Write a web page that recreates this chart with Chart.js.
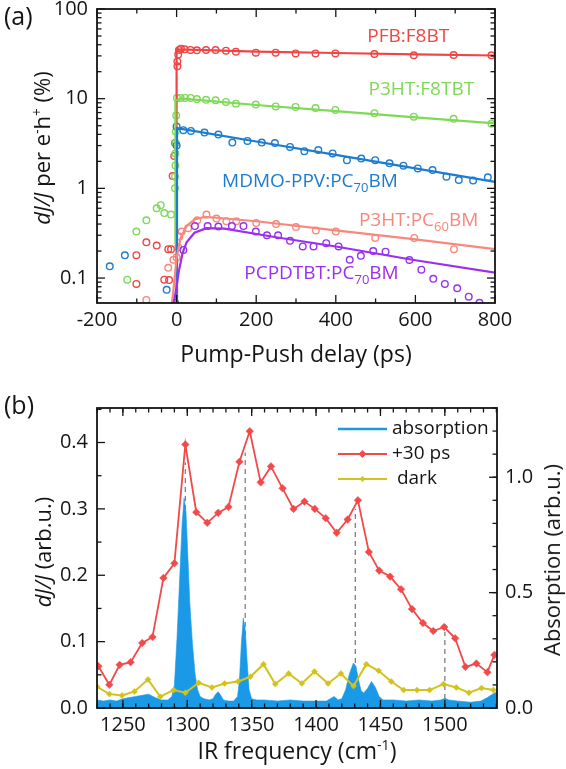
<!DOCTYPE html>
<html>
<head>
<meta charset="utf-8">
<script src="https://cdn.jsdelivr.net/npm/chart.js@4.4.1/dist/chart.umd.min.js"></script>
<style>
html,body{margin:0;padding:0;background:#ffffff;}
#wrap{position:relative;width:566px;height:769px;overflow:hidden;font-family:"Open Sans",sans-serif;color:#151515;}
#ca,#cb{position:absolute;left:0;}
#ca{top:0;}
#cb{top:385px;}
.t{position:absolute;white-space:nowrap;line-height:1;}
.r{transform:translate(-50%,-50%) rotate(-90deg);}
.c{transform:translate(-50%,-50%);}
sup{font-size:62%;vertical-align:0;position:relative;top:-0.6em;}
</style>
</head>
<body>
<div id="wrap">
<canvas id="ca" width="566" height="385"></canvas>
<canvas id="cb" width="566" height="384"></canvas>
<div class="t" style="left:4px;top:3px;font-size:25px;">(a)</div>
<div class="t" style="left:4px;top:392px;font-size:25px;">(b)</div>
<div class="t r" style="left:41px;top:148px;font-size:22px;"><i>dJ/J</i> per e<sup>-</sup>h<sup>+</sup> (%)</div>
<div class="t c" style="left:296px;top:353px;font-size:23px;">Pump-Push delay (ps)</div>
<div class="t r" style="left:42px;top:552px;font-size:22px;"><i>dJ/J</i> (arb.u.)</div>
<div class="t r" style="left:551px;top:560px;font-size:22px;">Absorption (arb.u.)</div>
<div class="t c" style="left:297px;top:750px;font-size:23px;">IR frequency (cm<sup>-1</sup>)</div>
</div>
<script>
// ---------------- Panel (a) data ----------------
const aXTicks = [-200, 0, 200, 400, 600, 800];
const aYTicks = [0.1, 1, 10, 100];

// PFB:F8BT
const pfbX = [-101,-101,-76,-50,-31,-21,-19,-14,-10,-6,-4,2,2,4,6,11,20,35,51,74,98,124,149,199,249,299,349,399,497,596,696,791];
const pfbY = [0.086,0.18,0.25,0.23,0.096,0.21,0.095,0.21,1.37,2.3,3.2,23,26,31,35,36,35.5,35,34.6,34.9,34.9,34.3,33.4,32.6,32.6,32,32,32,31.5,30.5,30.7,30.5];
const pfbFitX = [-1, 0, 50, 200, 400, 600, 800];
const pfbFitY = [0.03, 35.5, 35, 33.5, 32.3, 31.2, 30.3];

// P3HT:F8TBT
const grnX = [-124,-101,-76,-50,-40,-31,-14,-4,-4,-3,-3,-2,-2,-1,1,10,21,35,51,74,98,124,149,199,249,299,349,399,497,596,696,791];
const grnY = [0.096,0.33,0.44,0.60,0.65,0.53,0.51,1.0,1.35,1.8,2.45,3.2,4.3,6.5,10.2,10.2,10.2,10.2,9.9,9.7,9.6,9.2,8.8,8.6,8.2,8.1,7.85,7.5,6.9,6.3,5.96,5.24];
const grnFitX = [-4, -3, 10, 200, 400, 600, 800];
const grnFitY = [0.24, 9.5, 10.1, 8.5, 7.25, 6.2, 5.3];

// MDMO-PPV:PC70BM
const bluX = [-168,-130,-25,-4,0,0,17,36,70,105,140,178,214,247,285,321,356,392,428,464,499,535,570,606,643,678,709,745,782];
const bluY = [0.135,0.179,0.074,0.053,3.0,4.9,4.45,4.37,4.19,3.98,3.24,3.38,3.24,3.2,2.9,2.6,2.67,2.45,2.06,2.15,2.06,1.9,1.79,1.67,1.6,1.35,1.24,1.22,1.33];
const bluFitX = [0, 1, 200, 400, 600, 800];
const bluFitY = [0.04, 4.7, 3.33, 2.36, 1.67, 1.18];

// P3HT:PC60BM
const salX = [-76,-21,-8,0,4,7,13,29,52,75,100,125,150,200,250,300,350,400,499,597,697];
const salY = [0.057,0.13,0.16,0.17,0.22,0.29,0.33,0.36,0.44,0.51,0.46,0.43,0.43,0.41,0.40,0.37,0.34,0.33,0.28,0.28,0.21];
const salFitX = [-12,-5,0,10,25,45,70,100,200,400,600,800];
const salFitY = [0.05,0.1,0.17,0.28,0.38,0.45,0.48,0.47,0.43,0.34,0.27,0.21];

// PCPDTBT:PC70BM
const purX = [17,46,78,105,139,168,199,227,255,285,317,344,376,407,435,463,494,525,585,615,645,674,705,734,761];
const purY = [0.206,0.38,0.38,0.375,0.38,0.38,0.33,0.30,0.30,0.26,0.225,0.225,0.245,0.225,0.16,0.177,0.2,0.197,0.159,0.124,0.098,0.086,0.077,0.062,0.053];
const purFitX = [-8,0,5,15,25,45,75,120,250,400,600,800];
const purFitY = [0.05,0.08,0.115,0.19,0.25,0.32,0.36,0.355,0.285,0.225,0.158,0.115];

// series labels (text, anchor in data coordinates)
const aLabelText = ['PFB:F8BT', 'P3HT:F8TBT', 'MDMO-PPV:PC_{70}BM', 'P3HT:PC_{60}BM', 'PCPDTBT:PC_{70}BM'];
const aLabelX = [582, 615, 335, 608, 364];
const aLabelY = [49.8, 12.7, 1.2, 0.44, 0.113];

// ---------------- Panel (b) data ----------------
const bXTicks = [1250, 1300, 1350, 1400, 1450, 1500];
const bYTicks = [0, 0.1, 0.2, 0.3, 0.4];
const bY2Ticks = [0, 0.5, 1.0];

// +30 ps
const pushX = [1231,1239.5,1247.5,1256,1265,1273,1281.5,1290,1298.5,1307,1315.5,1324,1332,1340.5,1348.5,1357,1365,1374,1382.5,1391,1399,1407.5,1416,1424.5,1432.5,1441,1449,1457.5,1466,1474.5,1483,1491,1499.5,1508,1516,1524.5,1533,1538.5];
const pushY = [0.063,0.035,0.065,0.069,0.098,0.107,0.196,0.218,0.397,0.295,0.279,0.294,0.303,0.371,0.417,0.34,0.364,0.331,0.30,0.311,0.30,0.286,0.264,0.284,0.313,0.235,0.207,0.198,0.179,0.149,0.128,0.116,0.122,0.105,0.062,0.067,0.054,0.08];

// dark
const darkX = [1230,1239.5,1249.3,1259,1269.5,1279,1289.4,1298.5,1308.8,1319.2,1329,1339.4,1349,1359.2,1368.3,1378.7,1389,1398.8,1409.3,1419.3,1429.1,1439,1448.6,1458.4,1468,1478.4,1488.1,1499,1508.9,1518.7,1528.5,1537.7];
const darkY = [0.032,0.021,0.019,0.025,0.043,0.017,0.027,0.023,0.038,0.031,0.037,0.040,0.047,0.066,0.036,0.052,0.037,0.055,0.037,0.052,0.033,0.066,0.056,0.040,0.027,0.027,0.027,0.036,0.031,0.023,0.030,0.027];

// absorption (right axis)
const absX = [1230,1235,1240,1245,1250,1255,1260,1265,1270,1275,1280,1285,1288,1290,1292,1294,1296,1297.5,1299,1300.5,1302,1304,1306,1308,1310,1313,1317,1320,1322,1324,1326,1328,1332,1336,1339,1340.5,1342,1343.5,1345,1346.5,1348,1350,1354,1360,1370,1380,1390,1400,1408,1411,1414,1417,1420,1423,1426,1429,1431,1433,1435,1437,1440,1443,1446,1449,1452,1460,1470,1480,1490,1497,1500,1503,1510,1520,1528,1533,1537,1540.5];
const absY = [0.035,0.03,0.035,0.03,0.04,0.045,0.05,0.055,0.06,0.045,0.035,0.035,0.05,0.1,0.3,0.55,0.8,0.91,0.85,0.65,0.45,0.28,0.15,0.08,0.05,0.04,0.035,0.04,0.06,0.07,0.055,0.035,0.03,0.03,0.05,0.12,0.28,0.39,0.34,0.2,0.08,0.04,0.035,0.035,0.03,0.035,0.03,0.03,0.03,0.04,0.05,0.035,0.04,0.08,0.15,0.195,0.18,0.12,0.075,0.065,0.085,0.115,0.09,0.05,0.035,0.035,0.03,0.035,0.03,0.035,0.042,0.035,0.03,0.025,0.03,0.045,0.06,0.07];

// vertical dashed markers
const markX = [1298.5, 1345, 1430.5, 1500];
const markTop = [0.37, 0.385, 0.30, 0.115];

const legendText = ['absorption', '+30 ps', ' dark'];

// ---------------- styles ----------------
const FONT = "'Open Sans', sans-serif";
const INK = '#151515';
Chart.defaults.font.family = FONT;
Chart.defaults.color = INK;

const cRed = '#ef4545', cGrn = '#7ed957', cBlu = '#1c7ccf', cSal = '#f8877c', cPur = '#9a30ee';
const bRed = '#f24a4a', bYel = '#d2c21c', bBlu = '#1a9ae6';

const pts = (xs, ys) => xs.map((v, i) => ({x: v, y: ys[i]}));

// frame + inward ticks plugin
const frameTicks = {
  id: 'frameTicks',
  afterDatasetsDraw(chart, args, o) {
    const {ctx, chartArea: a} = chart;
    ctx.save();
    const line = (x1, y1, x2, y2) => { ctx.beginPath(); ctx.moveTo(x1, y1); ctx.lineTo(x2, y2); ctx.stroke(); };
    ctx.strokeStyle = INK; ctx.lineWidth = 1.3;
    const xs = chart.scales.x;
    [[o.xMajor, 8], [o.xMinor, 4.5]].forEach(([vals, len]) => vals.forEach(v => {
      const p = xs.getPixelForValue(v);
      if (p < a.left - 0.5 || p > a.right + 0.5) return;
      line(p, a.bottom, p, a.bottom - len); line(p, a.top, p, a.top + len);
    }));
    const ys = chart.scales.y;
    [[o.yMajor, 8], [o.yMinor, 4.5]].forEach(([vals, len]) => vals.forEach(v => {
      const p = ys.getPixelForValue(v);
      if (p < a.top - 0.5 || p > a.bottom + 0.5) return;
      line(a.left, p, a.left + len, p);
      if (!o.y2Major) line(a.right, p, a.right - len, p);
    }));
    if (o.y2Major) {
      const y2 = chart.scales.y2;
      [[o.y2Major, 8], [o.y2Minor, 4.5]].forEach(([vals, len]) => vals.forEach(v => {
        const p = y2.getPixelForValue(v);
        if (p < a.top - 0.5 || p > a.bottom + 0.5) return;
        line(a.right, p, a.right - len, p);
      }));
    }
    ctx.lineWidth = 1.8;
    ctx.strokeRect(a.left, a.top, a.right - a.left, a.bottom - a.top);
    ctx.restore();
  }
};

function range(a, b, step) { const r = []; for (let v = a; v <= b + 1e-9; v += step) r.push(+v.toFixed(6)); return r; }
function logMinor(lo, hi) { const r = []; for (let d = lo; d < hi; d *= 10) for (let k = 2; k <= 9; k++) r.push(+(d * k).toPrecision(6)); return r; }

// text labels with subscripts
const seriesLabels = {
  id: 'seriesLabels',
  afterDatasetsDraw(chart, args, o) {
    const {ctx} = chart;
    const xs = chart.scales.x, ys = chart.scales.y;
    ctx.save();
    ctx.textBaseline = 'middle';
    o.text.forEach((txt, i) => {
      const parts = txt.split(/_\{(\d+)\}/);
      const mainF = `19px ${FONT}`, subF = `13px ${FONT}`;
      let w = 0;
      parts.forEach((p, j) => { ctx.font = j % 2 ? subF : mainF; w += ctx.measureText(p).width; });
      let x = xs.getPixelForValue(o.x[i]) - w / 2;
      const y = ys.getPixelForValue(o.y[i]);
      ctx.fillStyle = o.colors[i];
      ctx.textAlign = 'left';
      parts.forEach((p, j) => {
        ctx.font = j % 2 ? subF : mainF;
        ctx.fillText(p, x, j % 2 ? y + 7 : y);
        x += ctx.measureText(p).width;
      });
    });
    ctx.restore();
  }
};

function axisCommon(extra) {
  return Object.assign({
    grid: {display: false, drawTicks: false},
    border: {display: false},
  }, extra);
}

// ---------------- Chart (a) ----------------
const aSeries = [
  {c: cRed, x: pfbX, y: pfbY, fx: pfbFitX, fy: pfbFitY},
  {c: cGrn, x: grnX, y: grnY, fx: grnFitX, fy: grnFitY},
  {c: cBlu, x: bluX, y: bluY, fx: bluFitX, fy: bluFitY},
  {c: cSal, x: salX, y: salY, fx: salFitX, fy: salFitY},
  {c: cPur, x: purX, y: purY, fx: purFitX, fy: purFitY},
];
const aSets = [];
aSeries.forEach((s, i) => {
  aSets.push({data: pts(s.x, s.y), showLine: false, pointRadius: 3.3, pointBorderWidth: 1.4,
    pointBorderColor: s.c, pointBackgroundColor: 'rgba(255,255,255,0)', pointHoverRadius: 3.3, order: 20 - i});
});
aSeries.forEach((s, i) => {
  aSets.push({data: pts(s.fx, s.fy), showLine: true, borderColor: s.c, borderWidth: 2.2, pointRadius: 0,
    tension: 0, fill: false, order: 10 - i});
});

new Chart(document.getElementById('ca'), {
  type: 'scatter',
  data: {datasets: aSets},
  options: {
    responsive: false, animation: false, events: [],
    layout: {padding: {top: 9, right: 71, left: 0, bottom: 0}},
    plugins: {
      legend: {display: false}, tooltip: {enabled: false},
      frameTicks: {xMajor: aXTicks, xMinor: range(-100, 700, 200), yMajor: aYTicks, yMinor: logMinor(0.01, 100)},
      seriesLabels: {text: aLabelText, x: aLabelX, y: aLabelY, colors: [cRed, cGrn, cBlu, cSal, cPur]}
    },
    scales: {
      x: axisCommon({type: 'linear', min: -200, max: 800,
        afterBuildTicks: s => { s.ticks = aXTicks.map(v => ({value: v})); },
        afterFit: s => { s.height = 82; s.paddingLeft = 0; s.paddingRight = 0; },
        ticks: {font: {size: 20}, padding: 5, color: INK, autoSkip: false, maxRotation: 0, callback: v => String(v)}}),
      y: axisCommon({type: 'logarithmic', min: 0.0527, max: 100,
        afterBuildTicks: s => { s.ticks = aYTicks.map(v => ({value: v})); },
        afterFit: s => { s.width = 97; s.paddingTop = 0; s.paddingBottom = 0; },
        ticks: {font: {size: 20}, padding: 9, color: INK, autoSkip: false, callback: v => String(v)}})
    }
  },
  plugins: [frameTicks, seriesLabels]
});

// ---------------- Chart (b) ----------------
const legendB = {
  id: 'legendB',
  afterDatasetsDraw(chart, args, o) {
    const {ctx, chartArea: a} = chart;
    ctx.save();
    ctx.font = `19px ${FONT}`;
    ctx.textBaseline = 'middle';
    ctx.fillStyle = INK;
    o.items.forEach((it, i) => {
      const y = a.top + 21 + i * 25;
      const x0 = a.right - 159, x1 = a.right - 110;
      ctx.strokeStyle = it.color; ctx.lineWidth = it.lw;
      ctx.beginPath(); ctx.moveTo(x0, y); ctx.lineTo(x1, y); ctx.stroke();
      if (it.r) {
        const cx = (x0 + x1) / 2;
        ctx.fillStyle = it.color;
        ctx.beginPath(); ctx.moveTo(cx - it.r, y); ctx.lineTo(cx, y - it.r); ctx.lineTo(cx + it.r, y); ctx.lineTo(cx, y + it.r); ctx.closePath(); ctx.fill();
      }
      ctx.fillStyle = INK;
      ctx.fillText(it.text, a.right - 105, y);
    });
    ctx.restore();
  }
};

const bSets = [];
markX.forEach((mx, i) => {
  bSets.push({data: [{x: mx, y: 0}, {x: mx, y: markTop[i]}], showLine: true, borderColor: '#808080',
    borderWidth: 1.3, borderDash: [5, 4], pointRadius: 0, yAxisID: 'y', order: 50});
});
bSets.push({data: pts(absX, absY), showLine: true, yAxisID: 'y2', borderColor: bBlu, borderWidth: 0.6,
  backgroundColor: bBlu, fill: 'origin', pointRadius: 0, tension: 0, order: 40});
bSets.push({data: pts(darkX, darkY), showLine: true, yAxisID: 'y', borderColor: bYel, borderWidth: 2,
  pointStyle: 'rectRot', pointRadius: 3, pointBackgroundColor: bYel, pointBorderColor: bYel, pointBorderWidth: 0.5, tension: 0, order: 30});
bSets.push({data: pts(pushX, pushY), showLine: true, yAxisID: 'y', borderColor: bRed, borderWidth: 1.8,
  pointStyle: 'rectRot', pointRadius: 3.8, pointBackgroundColor: bRed, pointBorderColor: bRed, pointBorderWidth: 0.5, tension: 0, order: 20});

new Chart(document.getElementById('cb'), {
  type: 'scatter',
  data: {datasets: bSets},
  options: {
    responsive: false, animation: false, events: [],
    layout: {padding: {top: 23, right: 0, left: 0, bottom: 0}},
    plugins: {
      legend: {display: false}, tooltip: {enabled: false},
      frameTicks: {xMajor: bXTicks, xMinor: range(1230, 1540, 10), yMajor: bYTicks, yMinor: range(0.05, 0.45, 0.1),
        y2Major: bY2Ticks, y2Minor: range(0.1, 1.3, 0.1)},
      legendB: {items: [
        {text: legendText[0], color: bBlu, lw: 2.5, r: 0},
        {text: legendText[1], color: bRed, lw: 2, r: 4},
        {text: legendText[2], color: bYel, lw: 2, r: 3}
      ]}
    },
    scales: {
      x: axisCommon({type: 'linear', min: 1229.9, max: 1540.5,
        afterBuildTicks: s => { s.ticks = bXTicks.map(v => ({value: v})); },
        afterFit: s => { s.height = 61; s.paddingLeft = 0; s.paddingRight = 0; },
        ticks: {font: {size: 20}, padding: 5, color: INK, autoSkip: false, maxRotation: 0, callback: v => String(v)}}),
      y: axisCommon({type: 'linear', position: 'left', min: 0, max: 0.452,
        afterBuildTicks: s => { s.ticks = bYTicks.map(v => ({value: v})); },
        afterFit: s => { s.width = 97; s.paddingTop = 0; s.paddingBottom = 0; },
        ticks: {font: {size: 20}, padding: 9, color: INK, autoSkip: false, callback: v => Number(v).toFixed(1)}}),
      y2: axisCommon({type: 'linear', position: 'right', min: 0, max: 1.3,
        afterBuildTicks: s => { s.ticks = bY2Ticks.map(v => ({value: v})); },
        afterFit: s => { s.width = 69; s.paddingTop = 0; s.paddingBottom = 0; },
        ticks: {font: {size: 20}, padding: 8, color: INK, autoSkip: false, callback: v => Number(v).toFixed(1)}})
    }
  },
  plugins: [frameTicks, legendB]
});
</script>
</body>
</html>
